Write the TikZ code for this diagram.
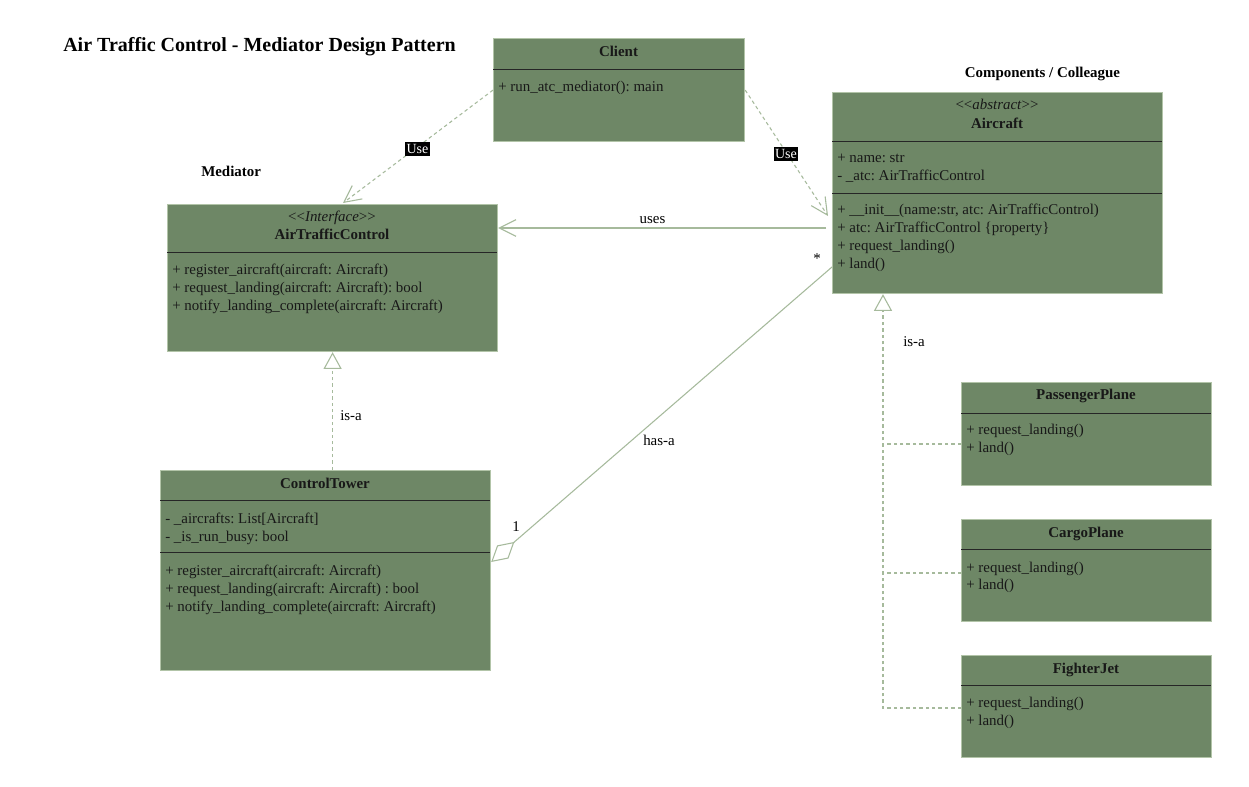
\documentclass[tikz,border=0pt]{standalone}
\usepackage{fontspec}
\setmainfont{Liberation Serif}
\frenchspacing
\usetikzlibrary{arrows.meta,calc}
\definecolor{boxfill}{RGB}{110,135,102}
\definecolor{boxline}{RGB}{178,196,168}
\definecolor{conn}{RGB}{166,186,156}
\definecolor{txtc}{RGB}{24,24,24}
\newcommand{\stereo}[1]{\textless\kern0pt\textless\textit{#1}\textgreater\kern0pt\textgreater}
\begin{document}
\begin{tikzpicture}[x=0.75pt,y=-0.75pt,
  cls/.style={draw=boxline,line width=0.9pt,fill=boxfill,anchor=north west,inner sep=0pt},
  sepline/.style={draw=black!85,line width=0.75pt},
  txt/.style={anchor=base west,inner sep=0pt,text=txtc,font=\fontsize{11.2}{13.5}\selectfont},
  ctxt/.style={anchor=base,inner sep=0pt,text=txtc,font=\fontsize{11.2}{13.5}\selectfont},
  bname/.style={anchor=base,inner sep=0pt,text=txtc,font=\fontsize{11.2}{13.5}\selectfont\bfseries},
  lbl/.style={anchor=base,inner sep=0pt,text=black,font=\fontsize{11.2}{13.5}\selectfont},
  uselbl/.style={fill=black,text=white,inner xsep=1.2pt,inner ysep=1.5pt,font=\fontsize{10.5}{12}\selectfont},
  dconn/.style={draw=conn,line width=0.8pt,dash pattern=on 2.6pt off 2.2pt},
  sconn/.style={draw=conn,line width=0.8pt},
  openarr/.style={-{Straight Barb[length=12.5pt,width=12.5pt,line width=0.8pt]}},
  inharr/.style={-{Triangle[open,length=12.5pt,width=13.5pt,line width=0.8pt,fill=white]}},
  aggarr/.style={-{Diamond[open,length=23pt,width=13pt,line width=0.8pt,fill=white]}}
]
\fill[white] (0,0) rectangle (1249,787);
\useasboundingbox (0,0) rectangle (1249,787);

% headings
\node[anchor=base west,inner sep=0pt,text=black,font=\fontsize{15}{18}\selectfont\bfseries] (title) at (63,51.7) {Air Traffic Control - Mediator Design Pattern};
\node[anchor=base west,inner sep=0pt,text=black,font=\fontsize{11.2}{13.5}\selectfont\bfseries] (medlbl) at (201,177) {Mediator};
\node[anchor=base,inner sep=0pt,text=black,font=\fontsize{11.2}{13.5}\selectfont\bfseries] (comlbl) at (1042.5,78) {Components / Colleague};

% boxes
\node[cls,minimum width=188.25pt,minimum height=77.25pt] (client) at (493,38) {};
\node[cls,minimum width=247.5pt,minimum height=110.25pt] (atc) at (167,204) {};
\node[cls,minimum width=247.5pt,minimum height=150.75pt] (ac) at (832,92) {};
\node[cls,minimum width=247.5pt,minimum height=150pt] (ct) at (160,470) {};
\node[cls,minimum width=187.5pt,minimum height=77.25pt] (pp) at (961,382) {};
\node[cls,minimum width=187.5pt,minimum height=76.5pt] (cp) at (961,519) {};
\node[cls,minimum width=187.5pt,minimum height=76.5pt] (fj) at (961,655) {};

% separators
\draw[sepline] (493,69.5) -- (744,69.5);
\draw[sepline] (167,252.5) -- (497,252.5);
\draw[sepline] (832,141.5) -- (1162,141.5);
\draw[sepline] (832,193.5) -- (1162,193.5);
\draw[sepline] (160,500.5) -- (490,500.5);
\draw[sepline] (160,552.5) -- (490,552.5);
\draw[sepline] (961,413.5) -- (1211,413.5);
\draw[sepline] (961,549.5) -- (1211,549.5);
\draw[sepline] (961,685.5) -- (1211,685.5);

% Client
\node[bname] (clientn) at (618.5,57) {Client};
\node[txt] (clientm1) at (498,91.5) {+ run\_atc\_mediator(): main};

% AirTrafficControl
\node[ctxt] (atcs) at (332,222) {\stereo{Interface}};
\node[bname] (atcn) at (332,240) {AirTrafficControl};
\node[txt] (atcm1) at (172,274.5) {+ register\_aircraft(aircraft: Aircraft)};
\node[txt] (atcm2) at (172,292.5) {+ request\_landing(aircraft: Aircraft): bool};
\node[txt] (atcm3) at (172,310.5) {+ notify\_landing\_complete(aircraft: Aircraft)};

% Aircraft
\node[ctxt] (acs) at (997,110) {\stereo{abstract}};
\node[bname] (acn) at (997,128.5) {Aircraft};
\node[txt] (aca1) at (837,162.5) {+ name: str};
\node[txt] (aca2) at (837,180.5) {- \_atc: AirTrafficControl};
\node[txt] (acm1) at (837,214.5) {+ \_\_init\_\_(name:str, atc: AirTrafficControl)};
\node[txt] (acm2) at (837,232.5) {+ atc: AirTrafficControl \{property\}};
\node[txt] (acm3) at (837,250.5) {+ request\_landing()};
\node[txt] (acm4) at (837,268.5) {+ land()};

% ControlTower
\node[bname] (ctn) at (325,488.5) {ControlTower};
\node[txt] (cta1) at (165,523) {- \_aircrafts: List[Aircraft]};
\node[txt] (cta2) at (165,541) {- \_is\_run\_busy: bool};
\node[txt] (ctm1) at (165,575) {+ register\_aircraft(aircraft: Aircraft)};
\node[txt] (ctm2) at (165,593) {+ request\_landing(aircraft: Aircraft) : bool};
\node[txt] (ctm3) at (165,611) {+ notify\_landing\_complete(aircraft: Aircraft)};

% subclasses
\node[bname] (ppn) at (1086,400) {PassengerPlane};
\node[txt] (ppm1) at (966,435) {+ request\_landing()};
\node[txt] (ppm2) at (966,452.5) {+ land()};
\node[bname] (cpn) at (1086,537.5) {CargoPlane};
\node[txt] (cpm1) at (966,572) {+ request\_landing()};
\node[txt] (cpm2) at (966,589.5) {+ land()};
\node[bname] (fjn) at (1086,673.5) {FighterJet};
\node[txt] (fjm1) at (966,707.5) {+ request\_landing()};
\node[txt] (fjm2) at (966,725.5) {+ land()};

% connector anchor points
\coordinate (atctop) at ($(atc.north west)+(176,-1)$);
\coordinate (actip) at ($(ac.north west)+(-4,124)$);
\coordinate (usesfrom) at ($(ac.north west)+(-6,136)$);
\coordinate (usesto) at ($(atc.north east)+(0,24)$);
\coordinate (aggfrom) at ($(ac.north west)+(0,175)$);
\coordinate (aggto) at ($(ct.north east)+(0,92)$);
\coordinate (trunk) at ($(ac.south west)+(51,0)$);
\coordinate (ppc) at ($(pp.north west)+(0,62)$);
\coordinate (cpc) at ($(cp.north west)+(0,54)$);
\coordinate (fjc) at ($(fj.north west)+(0,53)$);

% connectors
\draw[dconn,openarr] (client.west) -- (atctop);
\draw[dconn,openarr] (client.east) -- (actip);
\draw[sconn,openarr] (usesfrom) -- (usesto);
\draw[sconn,aggarr] (aggfrom) -- (aggto);
\draw[dconn,inharr] (ct.north -| atc.south) -- (atc.south);
\draw[dconn] (ppc) -- (ppc -| trunk);
\draw[dconn] (cpc) -- (cpc -| trunk);
\draw[dconn,inharr] (fjc) -- (fjc -| trunk) -- (trunk);

% connector labels
\node[uselbl] (use1) at (417.5,149) {Use};
\node[uselbl] (use2) at (786,154) {Use};
\node[lbl] (useslbl) at (652.5,224) {uses};
\node[anchor=base west,inner sep=0pt,font=\fontsize{11.2}{13.5}\selectfont] (isa1) at (340,421) {is-a};
\node[anchor=base west,inner sep=0pt,font=\fontsize{11.2}{13.5}\selectfont] (isa2) at (903,346.5) {is-a};
\node[lbl] (hasa) at (659,446) {has-a};
\node[lbl] (mult1) at (516,531.5) {1};
\node[lbl] (multn) at (817,264) {*};
\end{tikzpicture}
\end{document}
